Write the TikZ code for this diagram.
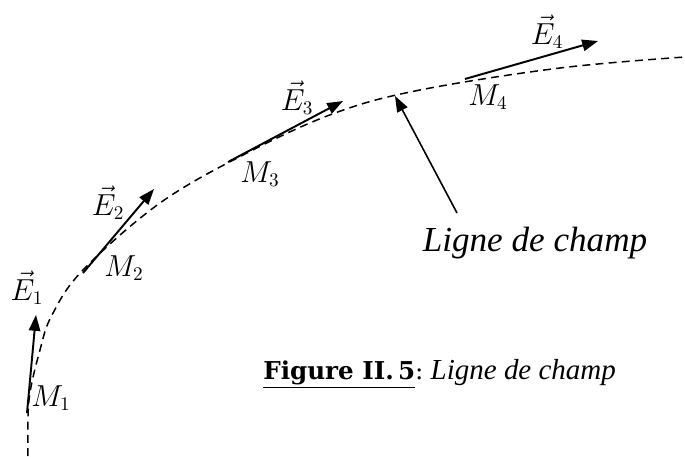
\documentclass[tikz,border=0pt]{standalone}
\usepackage{fontspec}
\setmainfont{Liberation Serif}
\newfontfamily\capfont{DejaVu Serif}
\usetikzlibrary{arrows.meta,positioning}

\begin{document}
\begin{tikzpicture}[x=0.02cm,y=-0.02cm,
  field/.style={-{Triangle[length=9pt,width=6.5pt]},line width=1.1pt},
  pointer/.style={-{Triangle[length=9pt,width=6.5pt]},line width=0.9pt},
  fieldline/.style={line width=0.85pt,dash pattern=on 4.5pt off 3pt},
  lbl/.style={font=\fontsize{16}{18}\selectfont,inner sep=0pt}]
\useasboundingbox (0,0) rectangle (685,456);
% ligne de champ (pointillés)
\draw[fieldline] plot[smooth,tension=0.6] coordinates {(28,456) (29,400) (40,350) (52,315) (83,270) (160,203) (247,153) (335,113) (420,90) (560,68) (685,57)};
% points et extrémités des vecteurs
\coordinate (M1) at (27,413);  \coordinate (T1) at (36,315);
\coordinate (M2) at (83,273);  \coordinate (T2) at (154,189);
\coordinate (M3) at (228,162); \coordinate (T3) at (343,101);
\coordinate (M4) at (465,79);  \coordinate (T4) at (598,41);
\draw[field] (M1) -- (T1);
\draw[field] (M2) -- (T2);
\draw[field] (M3) -- (T3);
\draw[field] (M4) -- (T4);
% étiquettes
\node[lbl] (e1) at (27,288) {$\vec{E}_1$};
\node[lbl] (e2) at (108,203) {$\vec{E}_2$};
\node[lbl] (e3) at (297,98) {$\vec{E}_3$};
\node[lbl] (e4) at (547,32) {$\vec{E}_4$};
\node[lbl] (m1) at (51,398) {$M_1$};
\node[lbl] (m2) at (124,268) {$M_2$};
\node[lbl] (m3) at (260,174) {$M_3$};
\node[lbl] (m4) at (488,97) {$M_4$};
% légende
\node[font=\fontsize{20}{24}\selectfont\itshape,inner sep=0pt] (ligne) at (535,243) {Ligne de champ};
\coordinate (P) at (457,213);
\coordinate (L) at (395,96);
\draw[pointer] (P) -- (L);
\node[inner sep=0pt,anchor=base west] (cap) at (263,379)
  {\fontsize{14}{17}\selectfont\capfont\underline{\textbf{Figure II.\,5}}:\fontsize{16.5}{20}\selectfont\rmfamily\ \textit{Ligne de champ}};
\end{tikzpicture}
\end{document}
